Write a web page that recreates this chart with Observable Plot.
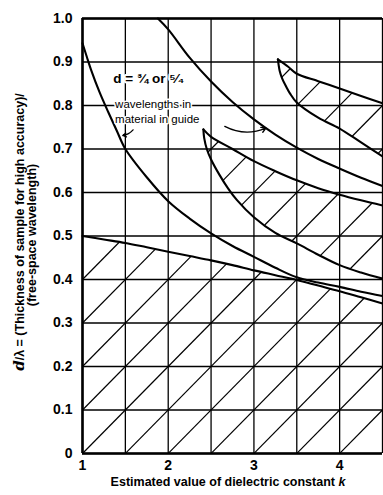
<!DOCTYPE html>
<html><head><meta charset="utf-8">
<script src="https://cdn.jsdelivr.net/npm/d3@7"></script>
<script src="https://cdn.jsdelivr.net/npm/@observablehq/plot@0.6"></script>
<style>body{margin:0;background:#fff} svg{display:block}</style>
</head><body><div id="chart"></div>
<script>
// ---- data ----
const xTickValues = [1, 2, 3, 4];
const yTickValues = [0, 0.1, 0.2, 0.3, 0.4, 0.5, 0.6, 0.7, 0.8, 0.9, 1.0];
const xGridValues = [1, 1.5, 2, 2.5, 3, 3.5, 4, 4.5];
const yGridValues = [0, 0.1, 0.2, 0.3, 0.4, 0.5, 0.6, 0.7, 0.8, 0.9, 1.0];

// d = 3/4 wavelength curve
const curveA = [[1.0,0.943],[1.05,0.912],[1.1,0.882],[1.2,0.830],[1.3,0.785],[1.4,0.742],[1.5,0.700],[1.75,0.635],[2.0,0.580],[2.25,0.540],[2.5,0.506],[2.75,0.477],[3.0,0.452],[3.25,0.427],[3.5,0.405],[3.75,0.393],[4.0,0.383],[4.25,0.372],[4.5,0.362]];
// d = 5/4 wavelength curve
const curveB = [[1.88,1.0],[2.0,0.975],[2.25,0.910],[2.5,0.855],[2.75,0.808],[3.0,0.768],[3.25,0.733],[3.5,0.703],[3.75,0.677],[4.0,0.655],[4.25,0.634],[4.5,0.615]];
// lower limit curve (hatched below)
const curveL = [[1.0,0.500],[1.25,0.492],[1.5,0.484],[1.75,0.474],[2.0,0.464],[2.25,0.454],[2.5,0.444],[2.75,0.433],[3.0,0.421],[3.25,0.410],[3.5,0.399],[3.75,0.386],[4.0,0.373],[4.25,0.359],[4.5,0.345]];
// lens D (hatched)
const lensDUpper = [[2.41,0.745],[2.5,0.728],[2.75,0.700],[3.0,0.672],[3.25,0.649],[3.5,0.628],[3.75,0.610],[4.0,0.595],[4.25,0.582],[4.5,0.570]];
const lensDLower = [[2.41,0.745],[2.42,0.725],[2.45,0.700],[2.5,0.676],[2.6,0.640],[2.7,0.609],[2.8,0.583],[3.0,0.543],[3.25,0.507],[3.5,0.483],[3.75,0.457],[4.0,0.433],[4.25,0.416],[4.5,0.402]];
// lens C (hatched)
const lensCUpper = [[3.28,0.906],[3.4,0.889],[3.5,0.873],[3.75,0.856],[4.0,0.839],[4.25,0.822],[4.5,0.805]];
const lensCLower = [[3.28,0.906],[3.30,0.880],[3.33,0.862],[3.38,0.842],[3.42,0.828],[3.5,0.807],[3.75,0.772],[4.0,0.747],[4.25,0.715],[4.5,0.683]];

// ---- hatching: cell diagonals of the 0.5 x 0.1 grid, clipped to regions ----
function interp(curve, x) {
  if (x < curve[0][0] - 1e-9 || x > curve[curve.length - 1][0] + 1e-9) return NaN;
  for (let i = 1; i < curve.length; i++) {
    if (x <= curve[i][0] + 1e-9) {
      const [x0, y0] = curve[i - 1], [x1, y1] = curve[i];
      return y0 + (y1 - y0) * (x - x0) / (x1 - x0);
    }
  }
  return NaN;
}
const xStep = xGridValues[1] - xGridValues[0];
const yStep = yGridValues[1] - yGridValues[0];
const slope = yStep / xStep;
const regions = [
  {lo: x => 0, hi: x => interp(curveL, x), x0: 1, x1: 4.5},
  {lo: x => interp(lensDLower, x), hi: x => interp(lensDUpper, x), x0: 2.41, x1: 4.5},
  {lo: x => interp(lensCLower, x), hi: x => interp(lensCUpper, x), x0: 3.28, x1: 4.5}
];
const hatch = [];
for (const r of regions) {
  for (let n = -40; n <= 20; n++) {
    const c = n * yStep - slope * 1;
    let start = null, prev = null;
    for (let x = r.x0; x <= r.x1 + 1e-9; x += 0.001) {
      const y = slope * x + c;
      const inside = y >= r.lo(x) && y <= r.hi(x) && y >= 0 && y <= 1;
      if (inside && start === null) start = [x, y];
      if (!inside && start !== null) { hatch.push({x1: start[0], y1: start[1], x2: prev[0], y2: prev[1]}); start = null; }
      prev = [x, y];
    }
    if (start !== null) hatch.push({x1: start[0], y1: start[1], x2: prev[0], y2: prev[1]});
  }
}

const curves = [curveA, curveB, curveL, lensDUpper, lensDLower, lensCUpper, lensCLower];

const chart = Plot.plot({
  width: 383, height: 495,
  marginLeft: 82, marginRight: 1, marginTop: 18, marginBottom: 42,
  style: {fontFamily: "Liberation Sans, Arial, sans-serif", fontSize: "14px", fontWeight: "bold", background: "white", color: "black"},
  x: {domain: [1, 4.5], ticks: xTickValues, tickSize: 0, tickPadding: 7, label: null, tickFormat: d => String(d)},
  y: {domain: [0, 1], ticks: yTickValues, tickSize: 0, tickPadding: 10, label: null, tickFormat: d => d === 0 ? "0" : d.toFixed(1)},
  marks: [
    Plot.ruleX(xGridValues, {stroke: "black", strokeWidth: 1.3}),
    Plot.ruleY(yGridValues, {stroke: "black", strokeWidth: 1.3}),
    Plot.link(hatch, {x1: "x1", y1: "y1", x2: "x2", y2: "y2", stroke: "black", strokeWidth: 1.2}),
    ...curves.map(c => Plot.line(c, {x: d => d[0], y: d => d[1], stroke: "black", strokeWidth: 2.1, curve: "catmull-rom"})),
    Plot.ruleX([1], {stroke: "black", strokeWidth: 2.6}),
    Plot.ruleY([0, 1], {stroke: "black", strokeWidth: 2.6}),
    Plot.text(["d = ¾ or ⁵⁄₄"], {x: 1.36, y: 0.862, text: d => d, textAnchor: "start", fontSize: 13.5, fontWeight: "bold", stroke: "white", strokeWidth: 4, fill: "black"}),
    Plot.text(["wavelengths in"], {x: 1.38, y: 0.802, text: d => d, textAnchor: "start", fontSize: 11.5, fontWeight: "normal", stroke: "white", strokeWidth: 3, fill: "black"}),
    Plot.text(["material in guide"], {x: 1.38, y: 0.768, text: d => d, textAnchor: "start", fontSize: 11.5, fontWeight: "normal", stroke: "white", strokeWidth: 3, fill: "black"}),
    Plot.arrow([0], {x1: 1.59, y1: 0.744, x2: 1.47, y2: 0.731, bend: 20, stroke: "black", strokeWidth: 1.3, headLength: 6}),
    Plot.arrow([0], {x1: 2.66, y1: 0.752, x2: 3.14, y2: 0.748, bend: -25, stroke: "black", strokeWidth: 1.3, headLength: 6})
  ]
});
document.getElementById("chart").appendChild(chart);

const svg = d3.select(chart);
const t1 = svg.append("text")
  .attr("transform", "translate(24,232) rotate(-90)")
  .attr("text-anchor", "middle")
  .attr("font-size", 12.5).attr("font-weight", "bold").attr("fill", "black");
t1.append("tspan").attr("font-style", "italic").attr("font-size", 15).attr("font-family", "DejaVu Serif, serif").text("d");
t1.append("tspan").text("/λ = (Thickness of sample for high accuracy)/");
svg.append("text")
  .attr("transform", "translate(36,235) rotate(-90)")
  .attr("text-anchor", "middle")
  .attr("font-size", 12.5).attr("font-weight", "bold").attr("fill", "black")
  .text("(free-space wavelength)");
const xl = svg.append("text")
  .attr("x", 228).attr("y", 486)
  .attr("text-anchor", "middle")
  .attr("font-size", 12.5).attr("font-weight", "bold").attr("fill", "black");
xl.append("tspan").text("Estimated value of dielectric constant ");
xl.append("tspan").attr("font-style", "italic").text("k");
</script>
</body></html>
